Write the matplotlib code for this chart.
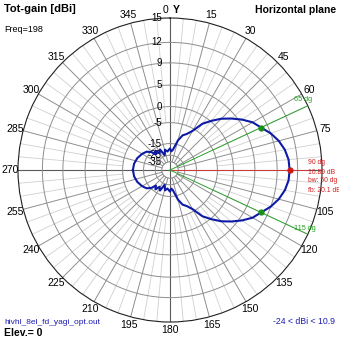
import numpy as np
import matplotlib.pyplot as plt

plt.rcParams['font.family'] = ['Liberation Sans', 'DejaVu Sans']

# half pattern, compass degrees from the Y axis (0 = up, 90 = main lobe), mirrored about 90/270
phi_deg = [-90, -80, -70, -60, -52, -46, -42, -37, -32, -26, -20, -14, -8, -3, 0, 4, 8,
           12, 15, 20, 25, 30, 35, 40, 45, 50, 55, 60, 65, 70, 75, 80, 85, 90]
gain_dbi = [-9.2, -9.5, -10.3, -11.6, -13.0, -15.5, -19.0, -16.5, -20.0, -17.5, -24.0, -19.0,
            -21.0, -19.5, -18.5, -21.0, -19.5, -16.0, -12.5, -9.3, -8.0, -5.8, -2.0, 0.2,
            2.3, 4.0, 5.6, 7.0, 7.89, 9.0, 9.85, 10.45, 10.8, 10.89]

ring_dbi = [15, 12, 9, 5, 0, -5, -15, -25, -35]
angle_labels = list(range(0, 360, 15))

max_dbi = 10.89
max_dir = 90
bw_edges = [65, 115]
info_lines = ['90 dg', '10.89 dB', 'bw: 50 dg', 'fb: 20.1 dB']

W = H = 339.0


def arrl(db):
    # ARRL log scale: 0.89 per 2 dB, 15 dBi on the outer circle
    return 0.89 ** ((15 - np.asarray(db, float)) / 2)


def px(x, y):
    return x / W, 1 - y / H


fig = plt.figure(figsize=(3.39, 3.39), dpi=100)
ax = fig.add_axes((0.0531, 0.0501, 0.8968, 0.8968), projection='polar')
ax.set_theta_zero_location('N')
ax.set_theta_direction(-1)
ax.set_ylim(0, 1)
ax.grid(False)
ax.set_xticks([])
ax.set_yticks([])
ax.spines['polar'].set_color('#202020')
ax.spines['polar'].set_linewidth(0.8)

# spokes
for a in range(0, 360, 5):
    t = np.deg2rad(a)
    if a % 90 == 0:
        ax.plot([t, t], [0, 1], color='#5a5a5a', lw=0.8, zorder=1)
    elif a % 15 == 0:
        ax.plot([t, t], [arrl(-35), 1], color='#8e8e8e', lw=0.7, zorder=1)
    else:
        ax.plot([t, t], [arrl(-5), 1], color='#d0d0d0', lw=0.6, zorder=0)

# rings
th = np.linspace(0, 2 * np.pi, 361)
for d in ring_dbi[1:]:
    ax.plot(th, np.full_like(th, arrl(d)), color='#8e8e8e', lw=0.7, zorder=1)

# pattern
phi = np.array(phi_deg, float)
g = np.array(gain_dbi, float)
full_t = np.deg2rad(np.r_[phi, 180 - phi[::-1]])
full_g = np.r_[g, g[::-1]]
ax.plot(full_t, arrl(full_g), color='#0c1aa6', lw=1.5, zorder=4)

# max direction and beamwidth markers
ax.plot([np.deg2rad(max_dir)] * 2, [0, 0.91], color='#d03a3a', lw=0.7, zorder=3)
ax.plot(np.deg2rad(max_dir), arrl(max_dbi), 'o', color='#d01818', ms=3.5, zorder=5)
for b in bw_edges:
    ax.plot([np.deg2rad(b)] * 2, [0, 0.99], color='#2aa02a', lw=0.7, zorder=3)
    ax.plot(np.deg2rad(b), arrl(max_dbi - 3), 'o', color='#189018', ms=3.5, zorder=5)

# angle labels
for a in angle_labels:
    if a in (0, 90):
        continue
    ax.text(np.deg2rad(a), 1.055, str(a), ha='center', va='center',
            fontsize=7.5, clip_on=False)
fig.text(*px(168, 10), '0', ha='right', va='center', fontsize=7.5)
fig.text(*px(173, 10), 'Y', ha='left', va='center', fontsize=7.5, fontweight='bold')

# ring labels
for d in ring_dbi:
    ax.text(0.4737, 0.5 + arrl(d) / 2, str(d), transform=ax.transAxes,
            ha='right', va='center', fontsize=7)

# annotations
for i, s in enumerate(info_lines):
    fig.text(*px(308, 163 + 9 * i), s, ha='left', va='center', fontsize=4.9,
             color='#d02020')
fig.text(*px(294, 100), '65 dg', ha='left', va='center', fontsize=5.2, color='#20a020')
fig.text(*px(294, 228), '115 dg', ha='left', va='center', fontsize=5.2, color='#20a020')

fig.text(*px(4, 9), 'Tot-gain [dBi]', ha='left', va='center', fontsize=8, fontweight='bold')
fig.text(*px(4, 30), 'Freq=198', ha='left', va='center', fontsize=6.5)
fig.text(*px(336, 10), 'Horizontal plane', ha='right', va='center', fontsize=7.5,
         fontweight='bold')
fig.text(*px(4, 322), 'hivhl_8el_fd_yagi_opt.out', ha='left', va='center', fontsize=6,
         color='#1c1cb4')
fig.text(*px(4, 333), 'Elev.= 0', ha='left', va='center', fontsize=7.5, fontweight='bold')
fig.text(*px(335, 322), '-24 < dBi < 10.9', ha='right', va='center', fontsize=6.3,
         color='#1c1cb4')

fig.savefig('out.png', dpi=100)
